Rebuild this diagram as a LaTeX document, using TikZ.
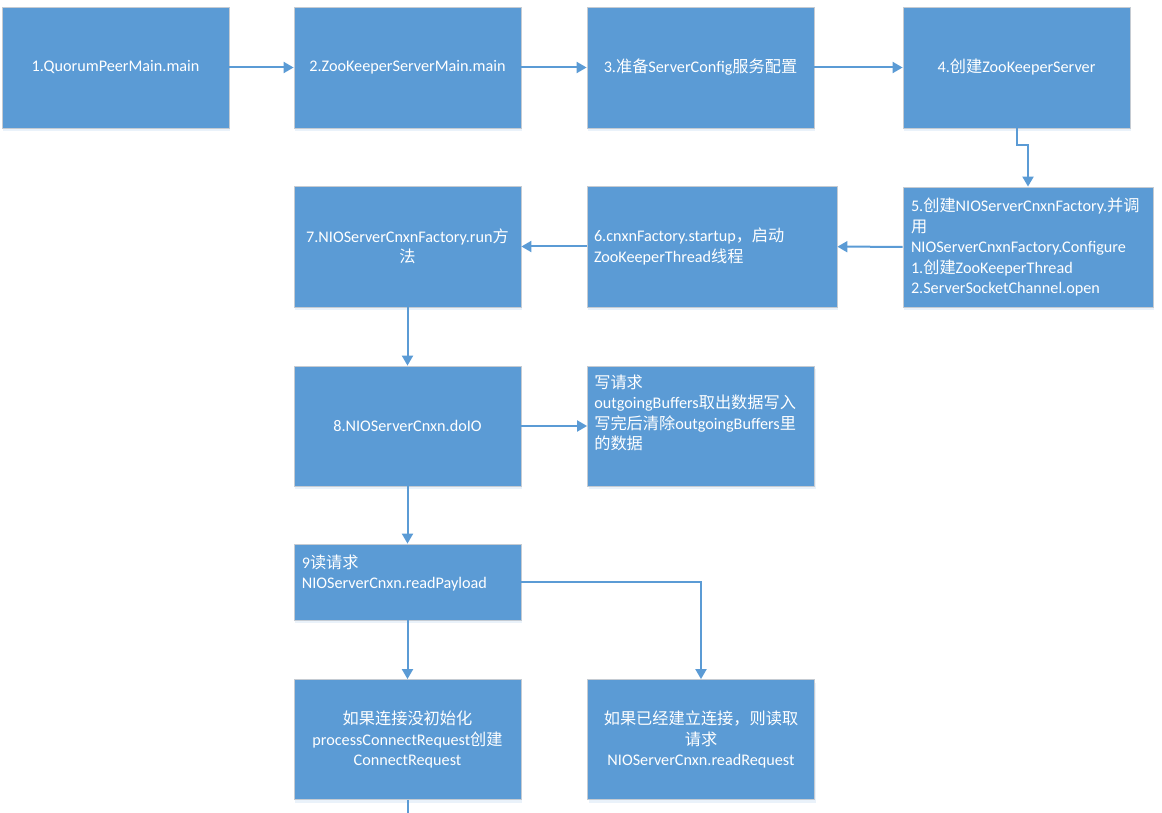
\documentclass[tikz,border=0pt]{standalone}
\usepackage{fontspec}
\setmainfont{Carlito}
\newfontfamily\cjk{Noto Sans CJK SC}
\newcommand{\zh}[1]{{\cjk #1}}
\usetikzlibrary{arrows.meta,shadows}
\definecolor{boxblue}{HTML}{5B9BD5}
\definecolor{boxedge}{HTML}{C5CBD2}

\tikzset{
  box/.style={rectangle, fill=boxblue, draw=boxedge, line width=0.8pt, text=white,
    minimum width=227pt, minimum height=121pt, inner sep=0pt, align=center,
    font=\fontsize{16.2}{20.5}\selectfont,
    drop shadow={shadow xshift=1pt, shadow yshift=-3pt, opacity=0.25, fill=boxblue!50}},
  txt/.style={text=white, inner sep=0pt, align=left, font=\fontsize{16.2}{20.5}\selectfont},
  flow/.style={draw=boxblue, line width=2pt, -{Triangle[length=10pt,width=11pt]}}
}

\begin{document}
\begin{tikzpicture}[x=1pt,y=-1pt]
            \useasboundingbox (0,0) rectangle (1162,813);

            % First row
            \node[box] (main) at (115.5,67.5) {1.QuorumPeerMain.main};
            \node[box] (zkmain) at (407.5,67.5) {2.ZooKeeperServerMain.main};
            \node[box] (config) at (700.5,67.5) {3.\zh{准备}ServerConfig\zh{服务配置}};
            \node[box] (zkserver) at (1016.5,67.5) {4.\zh{创建}ZooKeeperServer};

            % Second row
            \node[box, minimum width=250pt, minimum height=120pt, inner xsep=8pt,
                  text width=234pt, align=left] (factory) at (1028,247)
                 {5.\zh{创建}NIOServerCnxnFactory.\zh{并调}\\\zh{用}\\NIOServerCnxnFactory.Configure\\1.\zh{创建}ZooKeeperThread\\2.ServerSocketChannel.open};
            \node[box, minimum width=250pt, inner xsep=7pt,
                  text width=236pt, align=left] (startup) at (712,246.5)
                 {6.cnxnFactory.startup\zh{，启动}\\ZooKeeperThread\zh{线程}};
            \node[box] (run) at (407.5,246.5) {7.NIOServerCnxnFactory.run\zh{方}\\\zh{法}};

            % Third row
            \node[box, minimum height=120pt] (doio) at (407.5,426) {8.NIOServerCnxn.doIO};
            \node[box, minimum height=120pt] (write) at (701,426) {};
            \node[txt, anchor=north west] (writetxt) at ([xshift=7pt,yshift=-9pt]write.north west)
                 {\zh{写请求}\\outgoingBuffers\zh{取出数据写入}\\\zh{写完后清除}outgoingBuffers\zh{里}\\\zh{的数据}};

            % Read request
            \node[box, minimum height=76pt] (read) at (407.5,582) {};
            \node[txt, anchor=north west] (readtxt) at ([xshift=8pt,yshift=-11pt]read.north west)
                 {9\zh{读请求}\\NIOServerCnxn.readPayload};

            % Last row
            \node[box, minimum height=120pt] (connect) at (407.5,739.5)
                 {\zh{如果连接没初始化}\\processConnectRequest\zh{创建}\\ConnectRequest};
            \node[box, minimum height=120pt] (request) at (701,739.5)
                 {\zh{如果已经建立连接，则读取}\\\zh{请求}\\NIOServerCnxn.readRequest};
            \coordinate (down) at (407.5,813);

            % Draw arrows
            \draw[flow] (main) -- (zkmain);
            \draw[flow] (zkmain) -- (config);
            \draw[flow] (config) -- (zkserver);
            \draw[flow] (zkserver.south) -- ([yshift=-17pt]zkserver.south) -| (factory.north);
            \draw[flow] (factory) -- (startup);
            \draw[flow] (startup) -- (run);
            \draw[flow] (run) -- (doio);
            \draw[flow] (doio) -- (write);
            \draw[flow] (doio) -- (read);
            \draw[flow] (read) -- (connect);
            \draw[flow] (read.east) -| (request.north);
            \draw[draw=boxblue, line width=2pt] (connect) -- (down);
        \end{tikzpicture}
\end{document}
